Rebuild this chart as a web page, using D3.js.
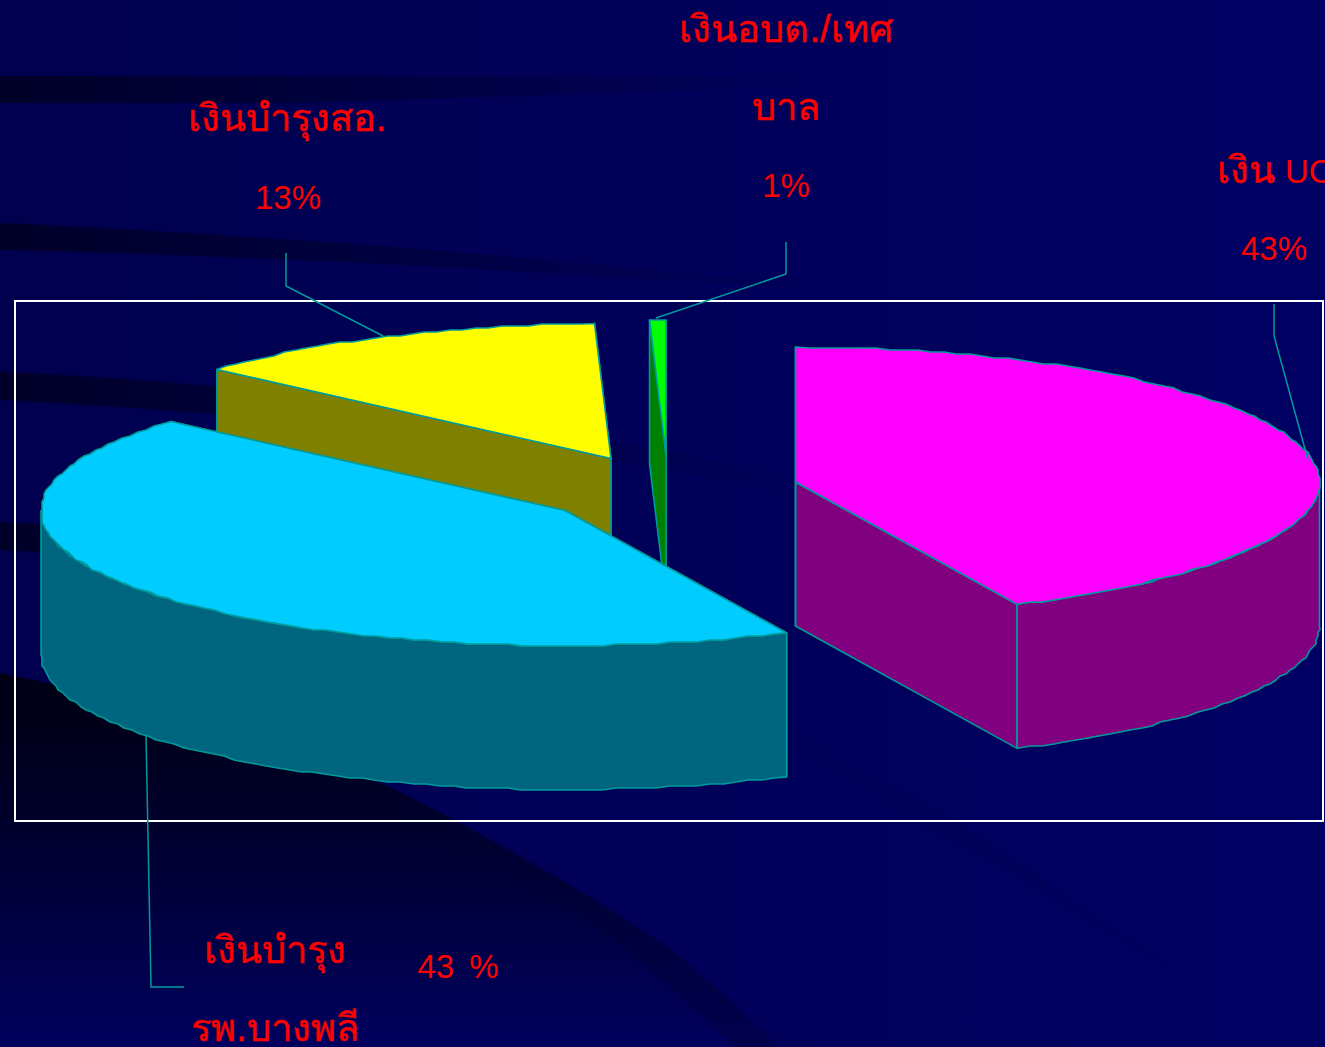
<!DOCTYPE html>
<html>
<head>
<meta charset="utf-8">
<style>
  html, body { margin: 0; padding: 0; background: #000060; overflow: hidden; }
  svg { display: block; }
  text { font-family: "Liberation Sans", "Noto Sans", sans-serif; fill: #ff0000; }
  .thai { stroke: #ff0000; stroke-width: 0.45; }
</style>
<script src="https://cdn.jsdelivr.net/npm/d3@7/dist/d3.min.js"></script>
</head>
<body>
<svg id="chart"></svg>
<script>
// share of the circle for each slice (clockwise from 12 o'clock)
const categories = ["เงิน UC", "เงินบำรุง รพ.บางพลี", "เงินบำรุงสอ.", "เงินอบต./เทศบาล"];
const shares = [43.05, 43.4, 13.05, 0.5];
const percentLabels = ["43%", "43 %", "13%", "1%"];
const topColors = ["#ff00ff", "#00ccff", "#ffff00", "#00ff00"];
const sideColors = ["#800080", "#006680", "#808000", "#008000"];

const W = 1325, H = 1047;
const RX = 524, RY = 135, DEPTH = 144;

const svg = d3.select("#chart").attr("width", W).attr("height", H);

// background swooshes
const defs = svg.append("defs");

const bgGrad = defs.append("linearGradient").attr("id", "bg")
  .attr("x1", 0).attr("y1", 0).attr("x2", 1).attr("y2", 0);
bgGrad.append("stop").attr("offset", "0%").attr("stop-color", "#00004e");
bgGrad.append("stop").attr("offset", "100%").attr("stop-color", "#000064");

const bandGrad = defs.append("linearGradient").attr("id", "band")
  .attr("gradientUnits", "userSpaceOnUse")
  .attr("x1", 0).attr("y1", 0).attr("x2", 900).attr("y2", 0);
bandGrad.append("stop").attr("offset", "0%").attr("stop-color", "#000028");
bandGrad.append("stop").attr("offset", "100%").attr("stop-color", "#000060");

// the big dark swoosh fades out going down
const bigGrad = defs.append("linearGradient").attr("id", "big")
  .attr("gradientUnits", "userSpaceOnUse")
  .attr("x1", 0).attr("y1", 700).attr("x2", 0).attr("y2", 1047);
bigGrad.append("stop").attr("offset", "0%").attr("stop-color", "#000016");
bigGrad.append("stop").attr("offset", "35%").attr("stop-color", "#00002c");
bigGrad.append("stop").attr("offset", "100%").attr("stop-color", "#00005e");

svg.append("rect").attr("width", W).attr("height", H).attr("fill", "url(#bg)");

const swooshes = [
  "M0,76 L700,76 L860,80 L700,90 L300,103 L0,103 Z",
  "M0,223 C200,232 500,250 900,296 C600,274 250,255 0,250 Z",
  "M0,372 C250,382 560,420 800,480 C900,505 1000,530 1050,550 C850,500 500,425 0,400 Z",
  "M0,522 L300,540 L300,570 L0,550 Z"
];
svg.selectAll("path.swoosh")
  .data(swooshes)
  .join("path")
  .attr("class", "swoosh")
  .attr("d", d => d)
  .attr("fill", "url(#band)");

svg.append("path")
  .attr("d", "M0,673 C130,700 280,735 400,792 C480,832 600,900 667,947 C710,980 750,1020 778,1047 L0,1047 Z")
  .attr("fill", "url(#big)");
// darker rim of that swoosh, outer edge minus inner edge
svg.append("path")
  .attr("d", "M400,792 C480,832 600,900 667,947 C710,980 750,1020 778,1047 L733,1047 C700,1015 660,975 613,940 C560,905 480,860 400,823 Z")
  .attr("fill", "#000030")
  .attr("fill-opacity", 0.35);
svg.append("path")
  .attr("d", "M786,727 C860,770 900,790 955,820 C1040,880 1120,930 1183,977 C1100,930 1000,860 930,830 C880,800 830,770 786,745 Z")
  .attr("fill", "#000050")
  .attr("fill-opacity", 0.35);

// plot frame
svg.append("rect")
  .attr("x", 15).attr("y", 301)
  .attr("width", 1308).attr("height", 520)
  .attr("fill", "none")
  .attr("stroke", "#ffffff")
  .attr("stroke-width", 2);

// pie layout
const pie = d3.pie().sort(null).value(d => d);
const arcs = pie(shares);

// where each exploded slice has its centre
const centres = [[795.5, 482], [565, 510.5], [611, 458.5], [666, 455]];

const unitX = i => d3.scaleLinear().domain([-1, 1]).range([centres[i][0] - RX, centres[i][0] + RX]);
const unitY = i => d3.scaleLinear().domain([-1, 1]).range([centres[i][1] + RY, centres[i][1] - RY]);

// stepped rim, like the low-res original
const snap = v => Math.round(v / 2) * 2;

function rimPoint(i, a) {
  return [unitX(i)(Math.sin(a)), unitY(i)(Math.cos(a))];
}

function rimPoints(i, a0, a1) {
  const n = Math.max(1, Math.ceil((a1 - a0) / (Math.PI / 120)));
  return d3.range(n + 1).map(k => {
    const p = rimPoint(i, a0 + (a1 - a0) * k / n);
    return (k === 0 || k === n) ? p : [snap(p[0]), snap(p[1])];
  });
}

const line = d3.line();

function drawSlice(i) {
  const d = arcs[i];
  const c = centres[i];
  const g = svg.append("g").attr("class", "slice")
    .attr("stroke", "#009a9a")
    .attr("stroke-width", 1.6)
    .attr("stroke-linejoin", "round");

  // cut faces
  [d.endAngle, d.startAngle].forEach(a => {
    const p = rimPoint(i, a);
    g.append("path")
      .attr("d", line([c, p, [p[0], p[1] + DEPTH], [c[0], c[1] + DEPTH]]) + "Z")
      .attr("fill", sideColors[i]);
  });

  // outer wall, only the front half of the rim shows
  const w0 = Math.max(d.startAngle, Math.PI / 2);
  const w1 = Math.min(d.endAngle, Math.PI * 1.5);
  if (w1 > w0) {
    const upper = rimPoints(i, w0, w1);
    const lower = upper.slice().reverse().map(p => [p[0], p[1] + DEPTH]);
    g.append("path")
      .attr("d", line(upper.concat(lower)) + "Z")
      .attr("fill", sideColors[i]);
  }

  // top face
  g.append("path")
    .attr("d", line([c].concat(rimPoints(i, d.startAngle, d.endAngle))) + "Z")
    .attr("fill", topColors[i]);
}

// back to front
[3, 2, 0, 1].forEach(drawSlice);

// leader lines
const leaders = [
  [[1274, 304], [1274, 336], [1308, 460]],
  [[146, 735], [151, 987], [184, 987]],
  [[286, 253], [286, 286], [383, 336]],
  [[786, 242], [786, 274], [656, 318]]
];
svg.selectAll("path.leader")
  .data(leaders)
  .join("path")
  .attr("class", "leader")
  .attr("d", d => line(d))
  .attr("fill", "none")
  .attr("stroke", "#009a9a")
  .attr("stroke-width", 1.5);

// labels
const labelLines = [
  { t: "เงิน", x: 1217, y: 183, anchor: "start", thai: true },
  { t: "UC", x: 1285, y: 183, anchor: "start" },
  { t: percentLabels[0], x: 1274, y: 260 },
  { t: "เงินบำรุง", x: 275, y: 963, thai: true },
  { t: "รพ.บางพลี", x: 275, y: 1041, thai: true },
  { t: percentLabels[1], x: 458, y: 978 },
  { t: categories[2], x: 287, y: 131, thai: true },
  { t: percentLabels[2], x: 288, y: 209 },
  { t: "เงินอบต./เทศ", x: 786, y: 42, thai: true },
  { t: "บาล", x: 786, y: 120, thai: true },
  { t: percentLabels[3], x: 786, y: 197 }
];
svg.selectAll("text.label")
  .data(labelLines)
  .join("text")
  .attr("class", d => d.thai ? "label thai" : "label")
  .attr("x", d => d.x)
  .attr("y", d => d.y)
  .attr("text-anchor", d => d.anchor || "middle")
  .attr("font-size", d => d.thai ? 38 : 33)
  .attr("word-spacing", 6)
  .text(d => d.t);
</script>
</body>
</html>
